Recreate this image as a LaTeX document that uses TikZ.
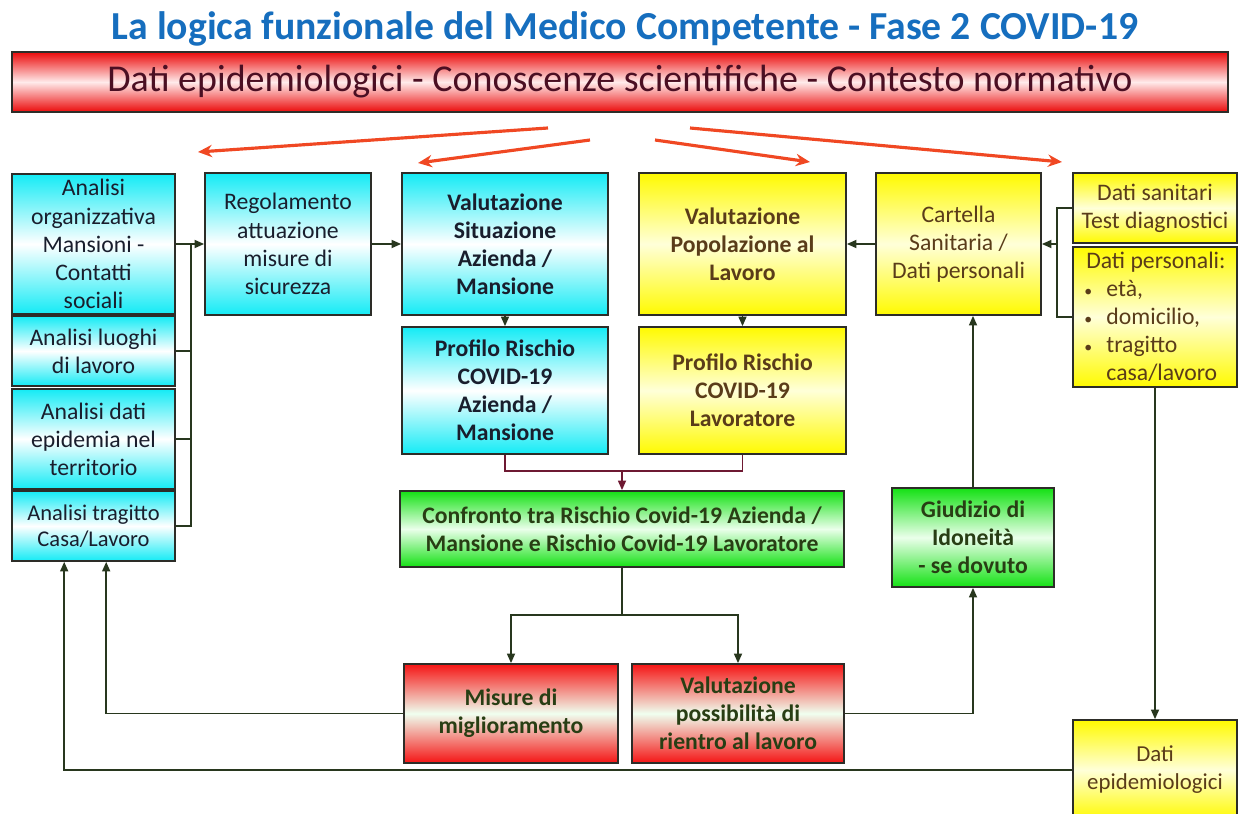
\documentclass[tikz,border=0pt]{standalone}
\usepackage{fontspec}
\setmainfont{Carlito}
\usetikzlibrary{arrows.meta}

\definecolor{titleblue}{RGB}{22,110,190}
\definecolor{barred}{RGB}{235,10,10}
\definecolor{bartext}{RGB}{75,15,35}
\definecolor{arrred}{RGB}{240,72,35}
\definecolor{cyanfill}{RGB}{20,235,245}
\definecolor{yelfill}{RGB}{255,250,0}
\definecolor{grnfill}{RGB}{20,225,20}
\definecolor{redfill}{RGB}{245,20,20}
\definecolor{cyantext}{RGB}{25,30,45}
\definecolor{yeltext}{RGB}{90,60,25}
\definecolor{grntext}{RGB}{40,62,20}
\definecolor{boxline}{RGB}{45,45,40}
\definecolor{connline}{RGB}{40,55,30}
\definecolor{maroon}{RGB}{110,25,50}

\begin{document}
\begin{tikzpicture}[
    x=0.02cm, y=-0.02cm,
    sz/.style 2 args={minimum width=#1*0.02cm, minimum height=#2*0.02cm},
    box/.style={draw=boxline, line width=0.9pt, align=center, inner sep=0pt,
        font=\fontsize{13.5}{16}\selectfont},
    cbox/.style={box, top color=cyanfill, bottom color=cyanfill, middle color=white, text=cyantext},
    ybox/.style={box, top color=yelfill, bottom color=yelfill, middle color=yellow!15, text=yeltext},
    gbox/.style={box, top color=grnfill, bottom color=grnfill, middle color=green!8, text=grntext},
    rbox/.style={box, top color=redfill, bottom color=redfill, middle color=green!6, text=grntext},
    bold/.style={font=\fontsize{13.5}{16}\selectfont\bfseries},
    line/.style={draw=connline, line width=1.1pt},
    arrow/.style={line, -{Triangle[length=5.5pt,width=4.5pt]}},
    redarrow/.style={draw=arrred, line width=1.8pt, -{Stealth[length=8pt,width=7pt]}}
]
    \useasboundingbox (0,0) rectangle (1240,814);

    % title and header bar
    \node[text=titleblue, font=\fontsize{22.6}{26}\selectfont\bfseries] (title) at (625,29)
        {La logica funzionale del Medico Competente - Fase 2 COVID-19};
    \node[draw=boxline, line width=0.9pt, sz={1216}{60}, top color=barred, bottom color=barred,
        middle color=red!8, text=bartext, font=\fontsize{21.6}{24}\selectfont] (hdr) at (620,82)
        {Dati epidemiologici - Conoscenze scientifiche - Contesto normativo};

    \draw[redarrow] (548,128) -- (198,152);
    \draw[redarrow] (590,140) -- (418,163);
    \draw[redarrow] (655,140) -- (810,162);
    \draw[redarrow] (690,128) -- (1062,162);

    % left column
    \node[cbox, sz={163}{140}] (a1) at (93.5,244) {Analisi\\organizzativa\\Mansioni -\\Contatti\\sociali};
    \node[cbox, sz={163}{70}] (a2) at (93.5,351) {Analisi luoghi\\di lavoro};
    \node[cbox, sz={163}{100}] (a3) at (93.5,439) {Analisi dati\\epidemia nel\\territorio};
    \node[cbox, sz={163}{70}, font=\fontsize{12.8}{14.7}\selectfont] (a4) at (93.5,526) {Analisi tragitto\\Casa/Lavoro};

    \node[cbox, sz={166}{142}] (reg) at (288,244) {Regolamento\\attuazione\\misure di\\sicurezza};
    \node[cbox, bold, sz={206}{142}] (valsit) at (505,244) {Valutazione\\Situazione\\Azienda /\\Mansione};
    \node[cbox, bold, sz={206}{127}] (profaz) at (505,390.5) {Profilo Rischio\\COVID-19\\Azienda /\\Mansione};

    % yellow column
    \node[ybox, bold, sz={207}{142}] (valpop) at (742.5,244) {Valutazione\\Popolazione al\\Lavoro};
    \node[ybox, bold, sz={207}{127}] (proflav) at (742.5,390.5) {Profilo Rischio\\COVID-19\\Lavoratore};
    \node[ybox, sz={165}{142}] (cart) at (958.5,244) {Cartella\\Sanitaria /\\Dati personali};
    \node[ybox, sz={164}{70}] (dsan) at (1155,208) {Dati sanitari\\Test diagnostici};
    \node[ybox, sz={164}{140}, align=left] (dpers) at (1155,317)
        {\hspace{1pt}Dati personali:\\{\small\textbullet}\hspace{8pt}età,\\{\small\textbullet}\hspace{8pt}domicilio,\\
         {\small\textbullet}\hspace{8pt}tragitto\\\phantom{\small\textbullet}\hspace{8pt}casa/lavoro};
    \node[ybox, sz={164}{100}, font=\fontsize{13}{16}\selectfont] (depi) at (1155,770) {Dati\\epidemiologici};

    % green and red boxes
    \node[gbox, bold, sz={444}{76}] (conf) at (622,529)
        {Confronto tra Rischio Covid-19 Azienda /\\Mansione e Rischio Covid-19 Lavoratore};
    \node[gbox, bold, sz={162}{99}] (giud) at (973,537.5) {Giudizio di\\Idoneità\\- se dovuto};
    \node[rbox, bold, sz={214}{99}] (mis) at (511,713.5) {Misure di\\miglioramento};
    \node[rbox, bold, sz={212}{99}] (valp) at (738,713.5) {Valutazione\\possibilità di\\rientro al lavoro};

    % connectors
    \coordinate (lj) at (191,244);
    \draw[line] (a4.east) -| (lj);
    \draw[line] (a3.east) -| (lj);
    \draw[line] (a2.east) -| (lj);
    \draw[arrow] (a1.east) -- (reg.west);
    \draw[arrow] (reg.east) -- (valsit.west);
    \draw[arrow] (valsit.south) -- (profaz.north);
    \draw[arrow] (valpop.south) -- (proflav.north);

    \coordinate (rj) at (1057,244);
    \draw[line] (dsan.west) -| (rj) |- (dpers.west);
    \draw[arrow] (rj) -- (cart.east);
    \draw[arrow] (cart.west) -- (valpop.east);

    \coordinate (mj) at (622,471);
    \draw[draw=maroon, line width=1.1pt] (profaz.south) |- (mj) -| (proflav.south);
    \draw[draw=maroon, line width=1.1pt, -{Triangle[length=5.5pt,width=4.5pt]}] (mj) -- (conf.north);

    \coordinate (bj) at (622,615);
    \draw[arrow] (conf.south) -- (bj) -| (mis.north);
    \draw[arrow] (bj) -| (valp.north);
    \draw[arrow] (mis.west) -| ([xshift=1.9cm]a4.south west);
    \draw[arrow] (valp.east) -| (giud.south);
    \draw[arrow] (giud.north) -- (giud.north |- cart.south);
    \draw[arrow] (dpers.south) -- (depi.north);
    \draw[arrow] (depi.west) -| ([xshift=1.06cm]a4.south west);
\end{tikzpicture}
\end{document}
